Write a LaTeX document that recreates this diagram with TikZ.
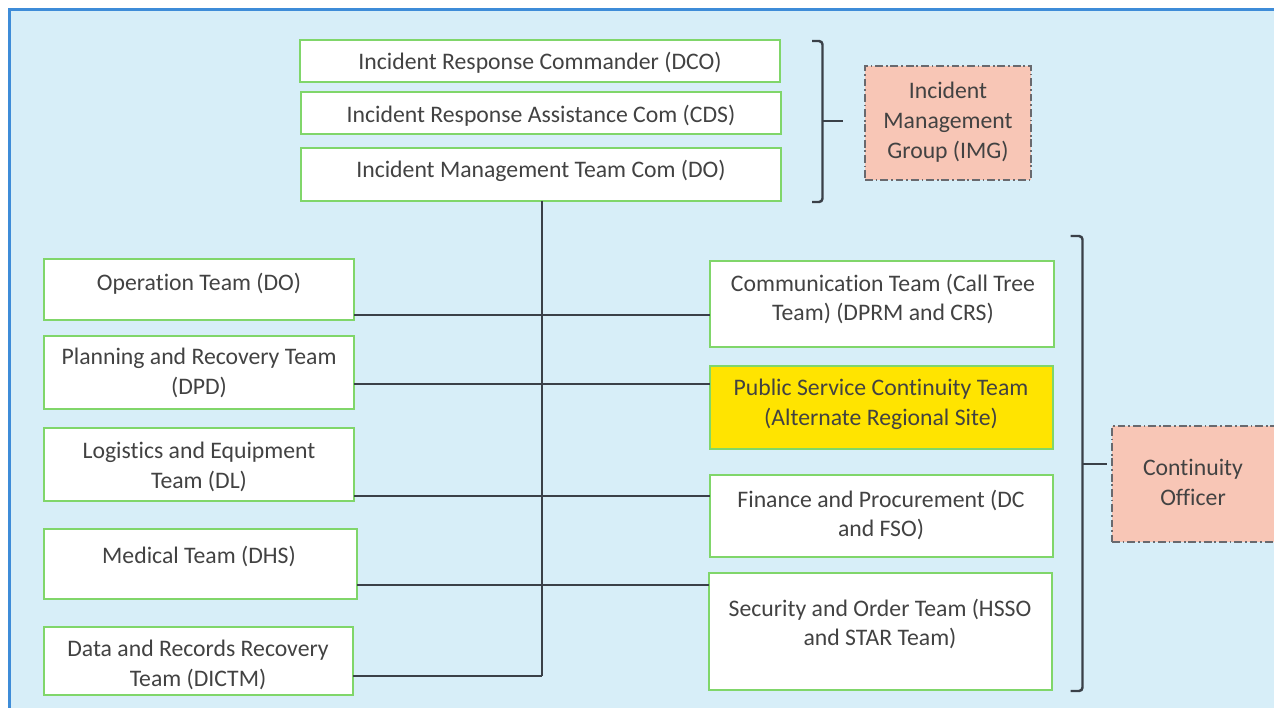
\documentclass[tikz,border=0pt]{standalone}
\usepackage{fontspec}
\setmainfont[Ligatures=NoCommon]{Carlito}
\definecolor{bgblue}{RGB}{215,238,248}
\definecolor{frameblue}{RGB}{62,140,216}
\definecolor{boxgreen}{RGB}{128,214,106}
\definecolor{linegray}{RGB}{58,64,72}
\definecolor{txtgray}{RGB}{66,66,66}
\definecolor{salmon}{RGB}{248,198,182}
\definecolor{dashgray}{RGB}{105,105,110}
\definecolor{hiyellow}{RGB}{255,228,0}
% box from (x1,y1) to (x2,y2) in pixel units
\newcommand\mkbox[6]{%
  \node[#2, anchor=north west, minimum width={(#5-#3)*0.02cm},
        minimum height={(#6-#4)*0.02cm}] (#1) at (#3,#4) {};}
\tikzset{
  gbox/.style={draw=boxgreen, line width=1.1pt, fill=white, inner sep=0pt, outer sep=0pt},
  ybox/.style={gbox, fill=hiyellow},
  gbox dashed/.style={draw=dashgray, line width=0.9pt, fill=salmon, inner sep=0pt, outer sep=0pt,
    dash pattern=on 4.5pt off 1.6pt on 1pt off 1.6pt},
  txt/.style={text=txtgray, align=center, font=\fontsize{13.5}{17}\selectfont, inner sep=0pt},
  conn/.style={draw=linegray, line width=1.4pt},
  brace/.style={draw=linegray, line width=1.4pt, rounded corners=2pt},
}
\begin{document}
\begin{tikzpicture}[x=0.02cm, y=-0.02cm]
\useasboundingbox (0,0) rectangle (1274,707);
\clip (0,0) rectangle (1274,707);
% page frame
\fill[white] (0,0) rectangle (1274,707);
\draw[fill=bgblue, draw=frameblue, line width=1.4pt] (9.5,9.5) rectangle (1300,740);

% command boxes
\mkbox{dco}{gbox}{300}{40}{780}{82}
\mkbox{cds}{gbox}{301}{92}{781}{134}
\mkbox{imt}{gbox}{301}{148}{781}{201}
\node[txt] (dco-t) at (540,63) {Incident Response Commander (DCO)};
\node[txt] (cds-t) at (541,116) {Incident Response Assistance Com (CDS)};
\node[txt] (imt-t) at (541,171) {Incident Management Team Com (DO)};

% left teams
\mkbox{op}{gbox}{44}{259}{354}{320}
\mkbox{plan}{gbox}{44}{336}{354}{409}
\mkbox{log}{gbox}{44}{428}{354}{501}
\mkbox{med}{gbox}{44}{529}{357}{599}
\mkbox{data}{gbox}{44}{627}{353}{695}
\node[txt] (op-t) at (199,284) {Operation Team (DO)};
\node[txt] (plan-t) at (199,373) {Planning and Recovery Team\\(DPD)};
\node[txt] (log-t) at (199,467) {Logistics and Equipment\\Team (DL)};
\node[txt] (med-t) at (199,556) {Medical Team (DHS)};
\node[txt] (data-t) at (198,665) {Data and Records Recovery\\Team (DICTM)};

% right teams
\mkbox{com}{gbox}{710}{261}{1054}{347}
\mkbox{pub}{ybox}{710}{366}{1053}{449}
\mkbox{fin}{gbox}{710}{475}{1053}{557}
\mkbox{sec}{gbox}{709}{573}{1052}{690}
\node[txt] (com-t) at (883,299) {Communication Team (Call Tree\\Team) (DPRM and CRS)};
\node[txt] (pub-t) at (881,404) {Public Service Continuity Team\\(Alternate Regional Site)};
\node[txt] (fin-t) at (881,515) {Finance and Procurement (DC\\and FSO)};
\node[txt] (sec-t) at (880,624) {Security and Order Team (HSSO\\and STAR Team)};

% groups
\mkbox{img}{gbox dashed}{865}{66}{1031}{180}
\mkbox{co}{gbox dashed}{1112}{426}{1290}{542}
\node[txt] (img-t) at (948,122) {Incident\\Management\\Group (IMG)};
\node[txt] (co-t) at (1193,482) {Continuity\\Officer};

% trunk and branches
\coordinate (j1) at (542,315);
\coordinate (j2) at (542,384);
\coordinate (j3) at (542,496);
\coordinate (j4) at (542,585);
\coordinate (j5) at (542,676);
\draw[conn] (imt.south -| j1) -- (j5);
\draw[conn] (op.east |- j1) -- (com.west |- j1);
\draw[conn] (plan.east |- j2) -- (pub.west |- j2);
\draw[conn] (log.east |- j3) -- (fin.west |- j3);
\draw[conn] (med.east |- j4) -- (sec.west |- j4);
\draw[conn] (data.east |- j5) -- (j5);

% brackets with their ticks
\coordinate (b1) at (822.5,121);
\coordinate (b1e) at (843,121);
\coordinate (b2) at (1082.5,464);
\coordinate (b2e) at (1107,464);
\draw[brace] (812,41) -- (822.5,41) -- (822.5,202) -- (812,202);
\draw[conn] (b1) -- (b1e);
\draw[brace] (1070.5,236) -- (1082.5,236) -- (1082.5,691) -- (1070.5,691);
\draw[conn] (b2) -- (b2e);
\end{tikzpicture}
\end{document}
